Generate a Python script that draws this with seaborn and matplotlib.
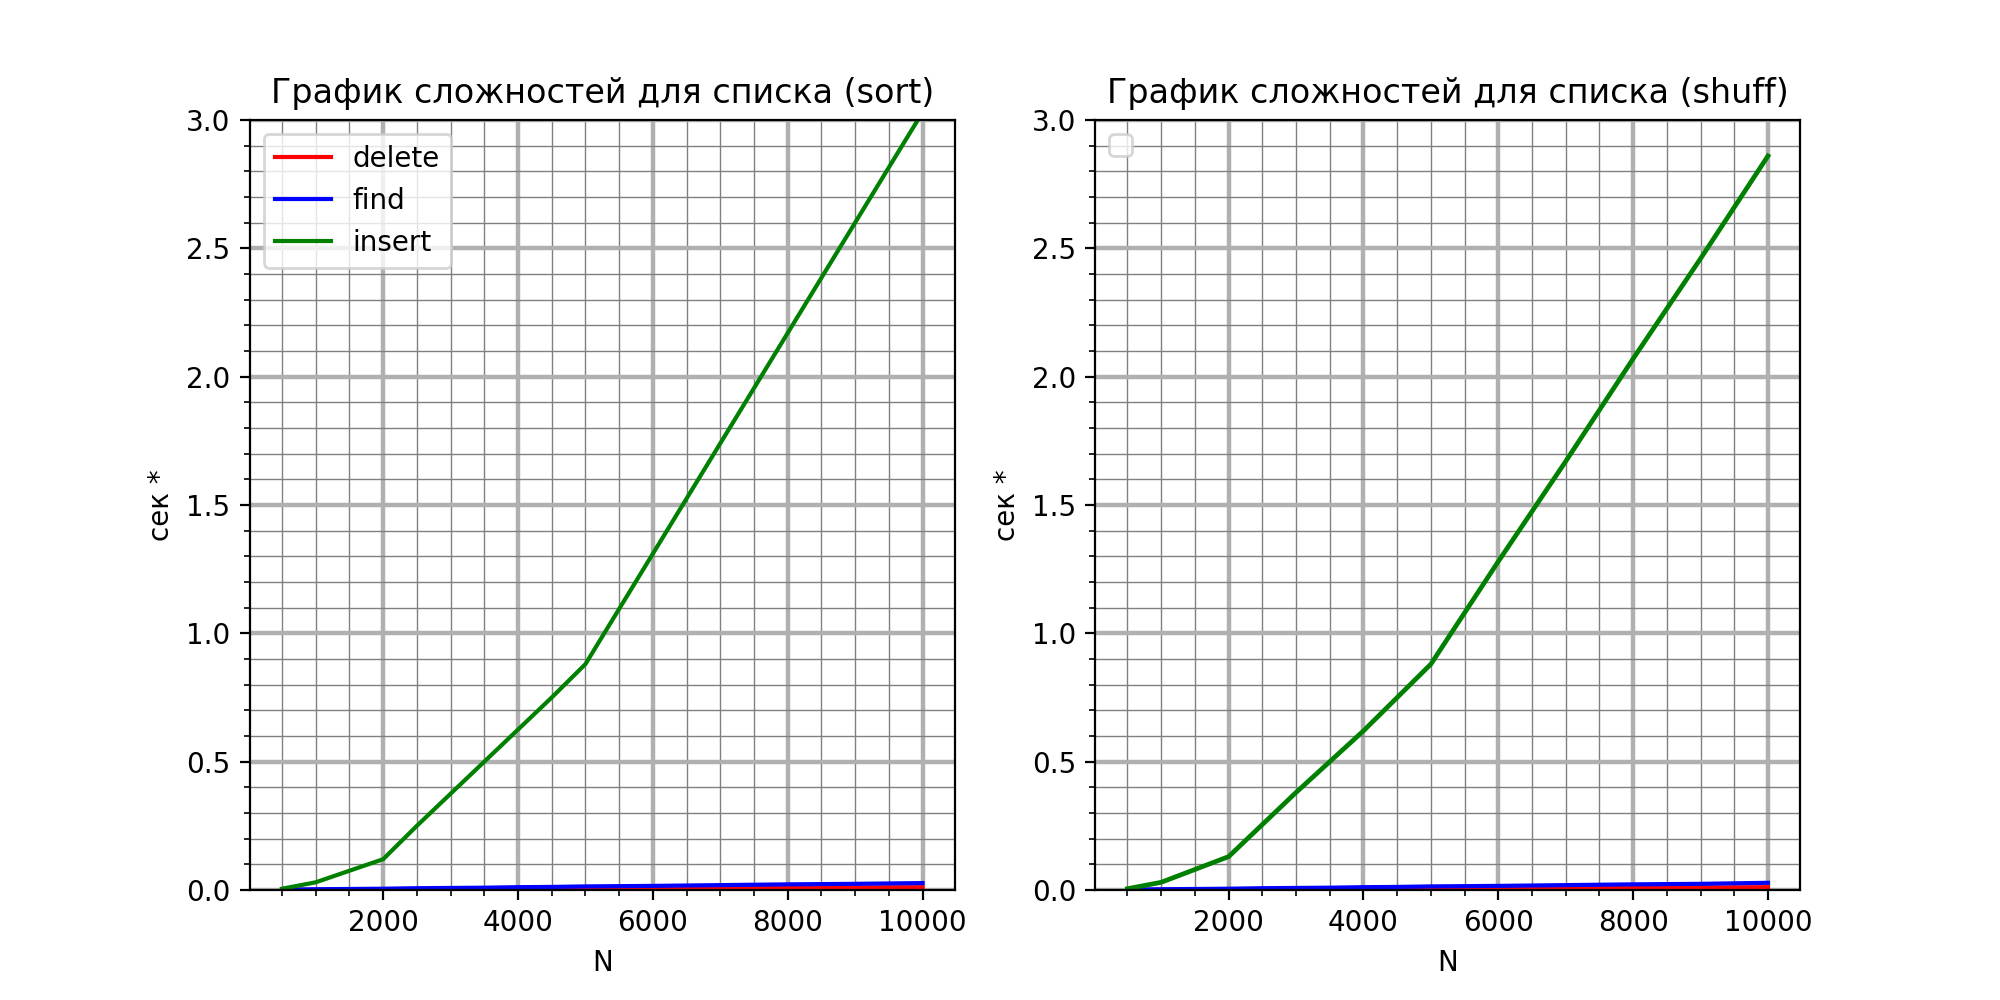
import seaborn as sns
import matplotlib.pyplot as plt

# Размеры списка
N = [500, 1000, 2000, 2500, 3000, 3500, 4000, 4500, 5000, 6000, 7000, 8000, 9000, 10000]

# sort
delete_sort = [0.0005, 0.001, 0.002, 0.003, 0.003, 0.004, 0.004, 0.005, 0.006, 0.007, 0.008, 0.009, 0.010, 0.011]
find_sort = [0.001, 0.003, 0.005, 0.007, 0.008, 0.009, 0.011, 0.012, 0.014, 0.016, 0.019, 0.022, 0.024, 0.027]
insert_sort = [0.005, 0.03, 0.12, 0.25, 0.375, 0.50, 0.625, 0.75, 0.88, 1.31, 1.74, 2.17, 2.60, 3.03]

# shuff
delete_shuff = [0.0005, 0.001, 0.002, 0.003, 0.003, 0.004, 0.004, 0.005, 0.006, 0.007, 0.008, 0.009, 0.010, 0.011]
find_shuff = [0.001, 0.003, 0.005, 0.007, 0.008, 0.009, 0.011, 0.012, 0.014, 0.016, 0.019, 0.022, 0.024, 0.028]
insert_shuff = [0.005, 0.03, 0.13, 0.255, 0.38, 0.50, 0.62, 0.75, 0.88, 1.28, 1.67, 2.07, 2.46, 2.86]

fig, (ax1, ax2) = plt.subplots(1, 2, figsize=(10, 5), dpi=200)

# левый график
sns.lineplot(x=N, y=delete_sort, color="red", label="delete", ax=ax1)
sns.lineplot(x=N, y=find_sort, color="blue", label="find", ax=ax1)
sns.lineplot(x=N, y=insert_sort, color="green", label="insert", ax=ax1)
ax1.set_title("График сложностей для списка (sort)")
ax1.legend(loc="upper left")

# правый график
sns.lineplot(x=N, y=delete_shuff, color="red", legend=False, ax=ax2)
sns.lineplot(x=N, y=find_shuff, color="blue", legend=False, ax=ax2)
sns.lineplot(x=N, y=insert_shuff, color="green", linewidth=1.7, legend=False, ax=ax2)
ax2.set_title("График сложностей для списка (shuff)")
ax2.legend(handles=[], loc="upper left")

for ax in (ax1, ax2):
    ax.set_ylim(0, 3)
    ax.set_xlabel("N")
    ax.set_ylabel("сек *")
    ax.minorticks_on()
    ax.grid(which="major", color="#b0b0b0", linewidth=1.6)
    ax.grid(which="minor", color="gray", linewidth=0.5)

plt.savefig("out.png")
